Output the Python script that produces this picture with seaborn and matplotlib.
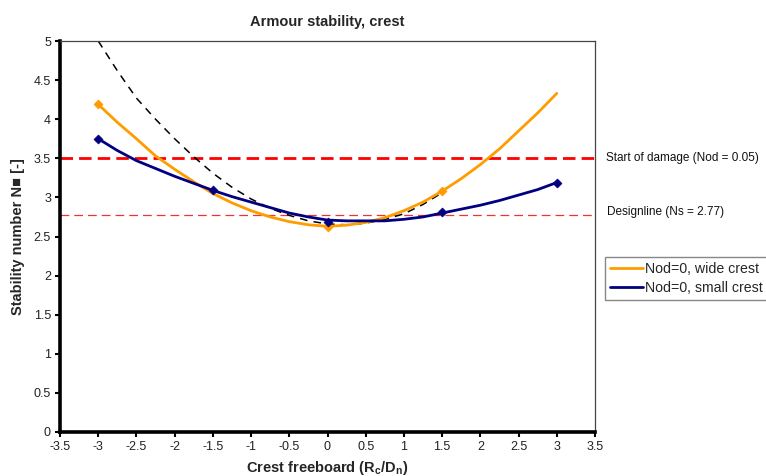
import numpy as np
import pandas as pd
import matplotlib.pyplot as plt
import seaborn as sns

# values
x_curve = [-3, -2.75, -2.5, -2.25, -2, -1.75, -1.5, -1.25, -1, -0.75, -0.5, -0.25,
           0, 0.25, 0.5, 0.75, 1, 1.25, 1.5, 1.75, 2, 2.25, 2.5, 2.75, 3]
wide_crest = [4.19, 3.96, 3.75, 3.53, 3.36, 3.20, 3.05, 2.93, 2.83, 2.75, 2.69, 2.65,
              2.63, 2.645, 2.68, 2.74, 2.83, 2.94, 3.08, 3.24, 3.42, 3.62, 3.85, 4.08, 4.33]
small_crest = [3.75, 3.60, 3.47, 3.37, 3.27, 3.18, 3.09, 3.01, 2.94, 2.87, 2.80, 2.75,
               2.71, 2.70, 2.70, 2.70, 2.72, 2.75, 2.80, 2.85, 2.90, 2.96, 3.03, 3.10, 3.19]

x_theory = [-3, -2.75, -2.5, -2.25, -2, -1.75, -1.5, -1.25, -1, -0.75, -0.5, -0.25,
            0, 0.25, 0.5, 0.75, 1, 1.25, 1.5]
theory = [5.0, 4.62, 4.27, 4.00, 3.75, 3.52, 3.31, 3.13, 2.98, 2.86, 2.77, 2.70,
          2.66, 2.65, 2.67, 2.72, 2.79, 2.91, 3.06]

x_wide_pts = [-3, 0, 1.5]
wide_pts = [4.19, 2.62, 3.08]
x_small_pts = [-3, -1.5, 0, 1.5, 3]
small_pts = [3.75, 3.09, 2.69, 2.81, 3.19]

start_damage = 3.5
designline = 2.77

sns.set_theme(style="white")
plt.rcParams["font.family"] = ["Liberation Sans", "DejaVu Sans"]
plt.rcParams["mathtext.default"] = "regular"

fig = plt.figure(figsize=(7.66, 4.76), dpi=100)
ax = fig.add_axes([60 / 766, 1 - 432 / 476, 535 / 766, 391 / 476])

df_lines = pd.DataFrame({
    "x": x_curve * 2,
    "y": wide_crest + small_crest,
    "serie": ["Nod=0, wide crest"] * len(x_curve) + ["Nod=0, small crest"] * len(x_curve),
})

ax.axhline(start_damage, color="#FF0000", lw=2.0, ls=(0, (4.5, 2.2)), zorder=1)
ax.axhline(designline, color="#EE3333", lw=0.9, ls=(0, (7, 4)), zorder=1)

sns.lineplot(x=x_theory, y=theory, ax=ax, color="black", lw=1.1,
             linestyle=(0, (5, 4)), zorder=2)
sns.lineplot(data=df_lines, x="x", y="y", hue="serie", ax=ax,
             palette={"Nod=0, wide crest": "#FF9C00", "Nod=0, small crest": "#000080"},
             lw=2.0, sort=False, zorder=3)
sns.scatterplot(x=x_wide_pts, y=wide_pts, ax=ax, marker="D", s=22,
                color="#FF9C00", edgecolor="#FF9C00", zorder=4)
sns.scatterplot(x=x_small_pts, y=small_pts, ax=ax, marker="D", s=22,
                color="#000080", edgecolor="#000080", zorder=4)

ax.set_xlim(-3.5, 3.5)
ax.set_ylim(0, 5)
ax.set_xticks(np.arange(-3.5, 3.51, 0.5))
ax.set_yticks(np.arange(0, 5.01, 0.5))
ax.set_xticklabels([f"{v:g}" for v in np.arange(-3.5, 3.51, 0.5)])
ax.set_yticklabels([f"{v:g}" for v in np.arange(0, 5.01, 0.5)])
ax.tick_params(axis="both", which="major", direction="out", length=3.5,
               width=1.5, color="black", labelsize=9, labelcolor="#222222", pad=3,
               left=True, bottom=True)

for side in ["left", "bottom"]:
    ax.spines[side].set_linewidth(2.6)
    ax.spines[side].set_color("black")
for side in ["top", "right"]:
    ax.spines[side].set_linewidth(0.9)
    ax.spines[side].set_color("#444444")
    ax.spines[side].set_visible(True)

ax.set_title("Armour stability, crest", fontsize=10.5, fontweight="bold", pad=11)
ax.set_xlabel("Crest freeboard (R$_c$/D$_n$)", fontsize=10.5, fontweight="bold", labelpad=4)
ax.set_ylabel("Stability number N\u25A0 [-]", fontsize=10.5, fontweight="bold", labelpad=6)

fig.text(606 / 766, 1 - 158 / 476, "Start of damage (Nod = 0.05)", fontsize=8.5,
         va="center", ha="left", color="#111111")
fig.text(607 / 766, 1 - 212 / 476, "Designline (Ns = 2.77)", fontsize=8.5,
         va="center", ha="left", color="#111111")

handles, labels = ax.get_legend_handles_labels()
ax.legend(handles[-2:], labels[-2:], loc="upper left",
          bbox_to_anchor=(605 / 766, 1 - 257 / 476), bbox_transform=fig.transFigure,
          fontsize=10.2, frameon=True, fancybox=False, edgecolor="#888888",
          framealpha=1, handlelength=2.3, handletextpad=0.2, borderpad=0.35,
          labelspacing=0.35, borderaxespad=0)

fig.savefig("out.png", dpi=100)
